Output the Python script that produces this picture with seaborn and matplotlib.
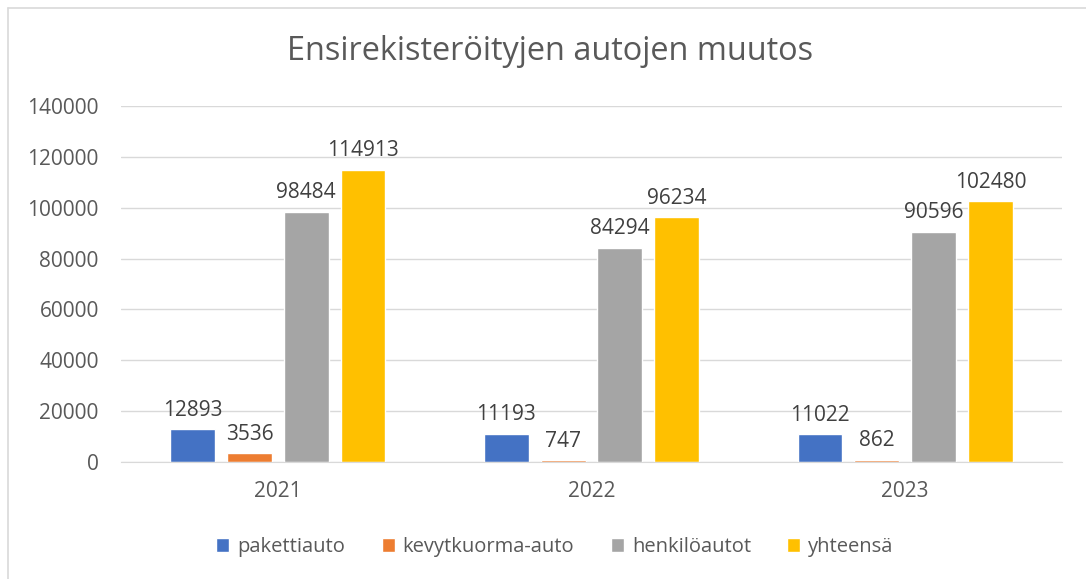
import pandas as pd
import seaborn as sns
import matplotlib.pyplot as plt
from matplotlib.lines import Line2D

# Data
vuodet = ['2021', '2022', '2023']
sarjat = ['pakettiauto', 'kevytkuorma-auto', 'henkilöautot', 'yhteensä']
pakettiauto = [12893, 11193, 11022]
kevytkuorma_auto = [3536, 747, 862]
henkiloautot = [98484, 84294, 90596]
yhteensa = [114913, 96234, 102480]
varit = ['#4472C4', '#ED7D31', '#A5A5A5', '#FFC000']

# Long format for seaborn
rivit = []
for nimi, arvot in zip(sarjat, [pakettiauto, kevytkuorma_auto, henkiloautot, yhteensa]):
    for v, a in zip(vuodet, arvot):
        rivit.append({'vuosi': v, 'sarja': nimi, 'arvo': a})
df = pd.DataFrame(rivit)

sns.set_style('white')
plt.rcParams['font.family'] = ['Open Sans', 'DejaVu Sans']
teksti = '#595959'

fig = plt.figure(figsize=(10.86, 5.79), dpi=100)
ax = fig.add_axes([121 / 1086, 117 / 579, 941 / 1086, 356 / 579])

sns.barplot(data=df, x='vuosi', y='arvo', hue='sarja', hue_order=sarjat,
            order=vuodet, palette=varit, width=0.724, gap=0.21,
            saturation=1, ax=ax, legend=True)

ax.set_ylim(0, 140000)
ax.set_yticks(range(0, 140001, 20000))
ax.yaxis.grid(True, color='#D9D9D9', linewidth=1)
ax.set_axisbelow(True)
for s in ['top', 'right', 'left']:
    ax.spines[s].set_visible(False)
ax.spines['bottom'].set_color('#D9D9D9')
ax.tick_params(axis='y', length=0, labelsize=15, colors=teksti, pad=16)
ax.tick_params(axis='x', length=0, labelsize=15, colors=teksti, pad=14)
ax.set_xlabel('')
ax.set_ylabel('')

for c in ax.containers:
    ax.bar_label(c, fmt='%d', padding=6, fontsize=15, color='#404040')

ax.legend(loc='center', bbox_to_anchor=(555 / 1086, 32 / 579),
          bbox_transform=fig.transFigure, ncol=4, frameon=False,
          fontsize=14.5, labelcolor=teksti, handlelength=0.65, handleheight=0.65,
          columnspacing=1.8, handletextpad=0.4)

fig.text(550 / 1086, 1 - 52 / 579, 'Ensirekisteröityjen autojen muutos',
         ha='center', va='center', fontsize=23.4, color=teksti)

# chart border (top and left edges visible in the crop)
fig.add_artist(Line2D([8 / 1086, 1], [1 - 8 / 579, 1 - 8 / 579],
                      transform=fig.transFigure, color='#D9D9D9', linewidth=1.2))
fig.add_artist(Line2D([8 / 1086, 8 / 1086], [0, 1 - 8 / 579],
                      transform=fig.transFigure, color='#D9D9D9', linewidth=1.2))

fig.savefig('out.png', dpi=100)
